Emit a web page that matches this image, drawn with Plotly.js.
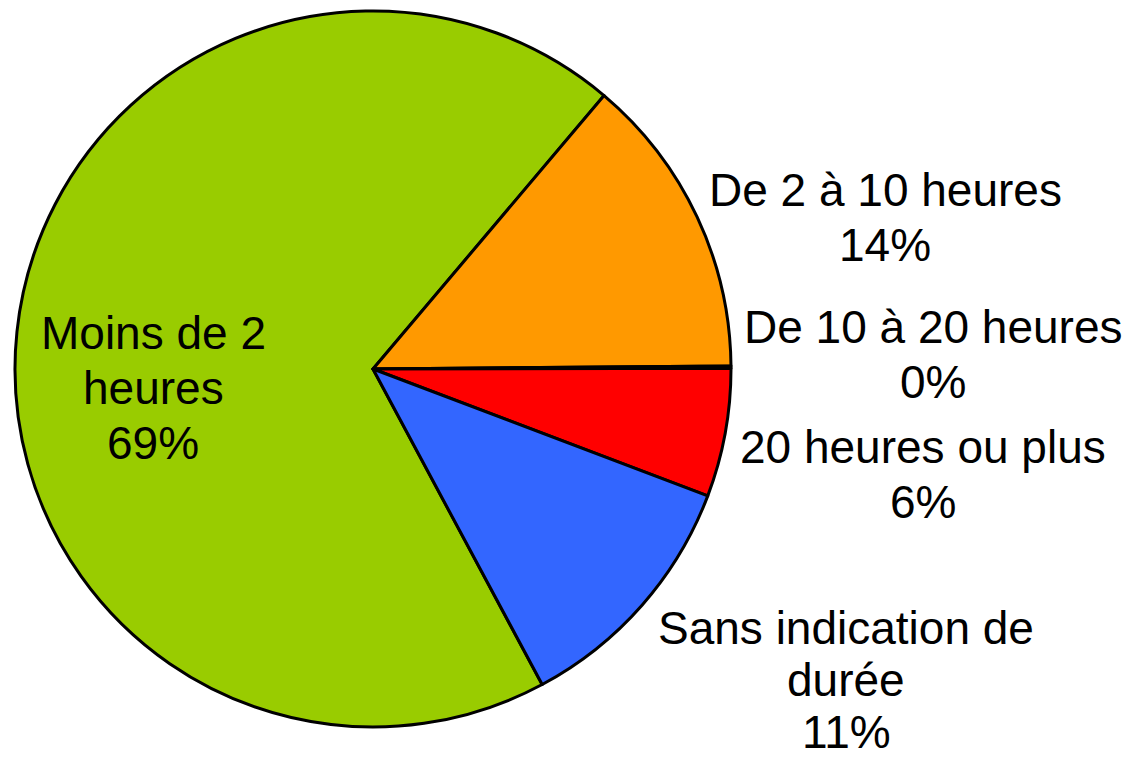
<!DOCTYPE html>
<html>
<head>
<meta charset="utf-8">
<script src="https://cdn.plot.ly/plotly-3.0.1.min.js"></script>
<style>
    html, body { margin: 0; padding: 0; background: #ffffff; }
    #chart { width: 1133px; height: 763px; }
</style>
</head>
<body>
<div id="chart"></div>
<script>
// slices, in drawing order (clockwise)
const labels = [
    'Moins de 2<br>heures',
    'De 2 à 10 heures',
    'De 10 à 20 heures',
    '20 heures ou plus',
    'Sans indication de<br>durée'
];
const values = [69.0, 13.7, 0.1, 5.8, 11.4];
const colors = ['#99CC00', '#FF9900', '#000000', '#FF0000', '#3366FF'];

// where each label block is centred (px): first line y, line step
const labelPos = [
    {x: 153, y: 333, dy: 55},
    {x: 885, y: 190, dy: 55},
    {x: 933, y: 327, dy: 55},
    {x: 923, y: 447, dy: 55},
    {x: 846, y: 628, dy: 52}
];

function pie_chart(element) {
    const W = 1133, H = 763;
    const total = values.reduce((a, b) => a + b, 0);
    const annotations = [];

    labels.forEach((label, i) => {
        const lines = label.split('<br>');
        lines.push(Math.round(values[i] / total * 100) + '%');
        lines.forEach((line, k) => {
            annotations.push({
                xref: 'paper',
                yref: 'paper',
                x: labelPos[i].x / W,
                y: 1 - (labelPos[i].y + k * labelPos[i].dy) / H,
                xanchor: 'center',
                yanchor: 'middle',
                showarrow: false,
                borderpad: 0,
                text: line,
                font: {family: 'Liberation Sans, Arial, sans-serif', size: 46, color: '#000000'}
            });
        });
    });

    const cx = 373, cy = 369, r = 358;
    const data = [{
        type: 'pie',
        labels: labels,
        values: values,
        sort: false,
        direction: 'clockwise',
        rotation: 151.8,
        textinfo: 'none',
        hoverinfo: 'skip',
        marker: {
            colors: colors,
            line: {color: '#000000', width: 3}
        },
        domain: {
            x: [(cx - r) / W, (cx + r) / W],
            y: [(H - cy - r) / H, (H - cy + r) / H]
        }
    }];

    const layout = {
        width: W,
        height: H,
        margin: {l: 0, r: 0, t: 0, b: 0},
        showlegend: false,
        paper_bgcolor: '#ffffff',
        annotations: annotations
    };

    Plotly.newPlot(element, data, layout, {displayModeBar: false, staticPlot: true});
}

pie_chart(document.getElementById('chart'));
</script>
</body>
</html>
